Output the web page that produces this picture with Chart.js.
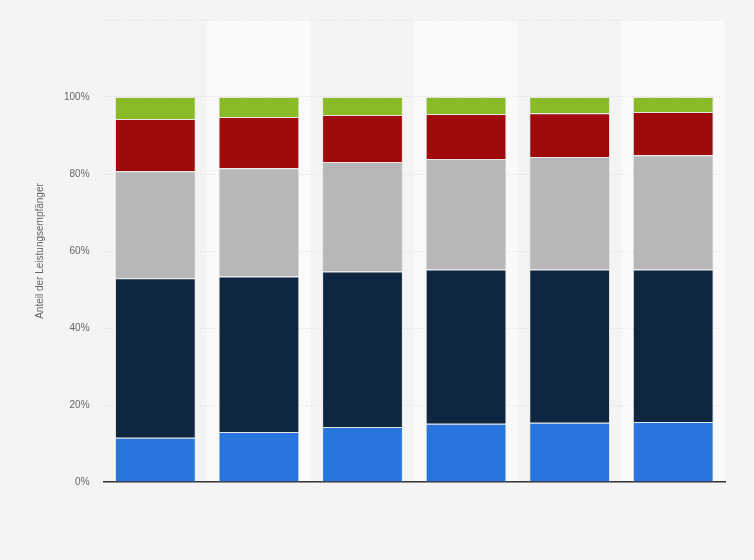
<!DOCTYPE html>
<html><head><meta charset="utf-8">
<script src="https://cdn.jsdelivr.net/npm/chart.js@4"></script>
<style>html,body{margin:0;background:#f4f4f4}#w{width:754px;height:560px}</style>
</head><body><div id="w"><canvas id="c"></canvas></div>
<script>
const categories = ['', '', '', '', '', ''];
const blue  = [11.5, 13.0, 14.3, 15.1, 15.4, 15.6];
const navy  = [41.4, 40.4, 40.4, 40.1, 39.8, 39.6];
const gray  = [27.8, 28.1, 28.4, 28.7, 29.2, 29.7];
const red   = [13.6, 13.3, 12.2, 11.7, 11.4, 11.2];
const green = [5.7, 5.2, 4.7, 4.4, 4.2, 3.9];
const yTicks = [0, 20, 40, 60, 80, 100, 120];

const bands = {
  id: 'bands',
  beforeDraw(ch) {
    const {ctx, chartArea: a, scales: {x}} = ch;
    const w = x.getPixelForValue(1) - x.getPixelForValue(0);
    ctx.save(); ctx.fillStyle = '#fafafa';
    categories.forEach((c, i) => {
      if (i % 2 === 1) ctx.fillRect(x.getPixelForValue(i) - w / 2, a.top, w, a.bottom - a.top);
    });
    ctx.restore();
  }
};
const ds = (d, c) => ({data: d, backgroundColor: c, borderColor: '#e6e6e6', borderWidth: 1, barPercentage: 0.78, categoryPercentage: 1});
new Chart(document.getElementById('c'), {
  type: 'bar',
  data: {labels: categories, datasets: [
    ds(blue, '#2876dd'), ds(navy, '#0f2640'), ds(gray, '#b7b7b7'), ds(red, '#a10a0a'), ds(green, '#8aba26')
  ]},
  options: {
    responsive: true, maintainAspectRatio: false, animation: false,
    layout: {padding: {top: 19, right: 29, bottom: 70, left: 30}},
    plugins: {legend: {display: false}, tooltip: {enabled: false}},
    scales: {
      x: {stacked: true, grid: {display: false}, border: {color: '#333', width: 1.5}, ticks: {display: false}},
      y: {stacked: true, min: 0, max: 120,
        afterBuildTicks: s => { s.ticks = yTicks.map(v => ({value: v})); },
        grid: {color: '#dcdcdc', lineWidth: 1, drawTicks: false}, border: {display: false, dash: [1, 2]},
        ticks: {padding: 14, color: '#666', font: {family: 'Arial, Liberation Sans', size: 10},
          callback: v => v === 120 ? '' : v + '%'},
        title: {display: true, text: 'Anteil der Leistungsempfänger', color: '#666', font: {family: 'Arial, Liberation Sans', size: 10}}
      }
    }
  },
  plugins: [bands]
});
</script></body></html>
